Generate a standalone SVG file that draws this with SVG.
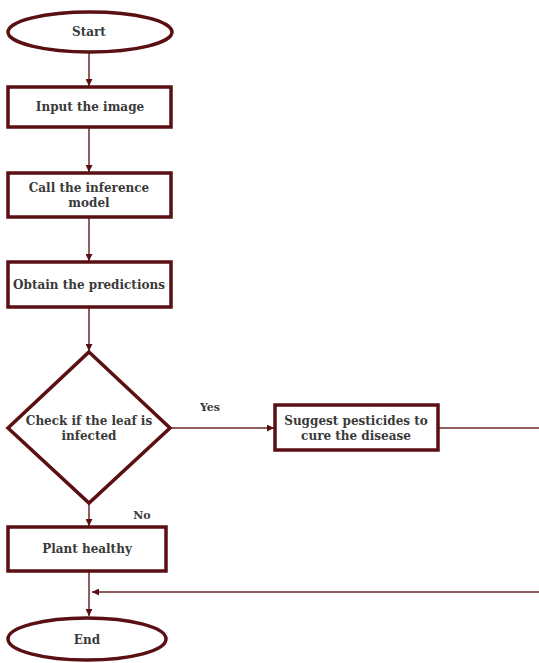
<svg xmlns="http://www.w3.org/2000/svg" width="539" height="663" viewBox="0 0 539 663">
<style>
.shape{fill:#fff;stroke:#5a0f12;stroke-width:3.5}
.conn{fill:none;stroke:#6a2a2c;stroke-width:1.5}
.t{font-family:"DejaVu Serif",serif;font-weight:bold;font-size:12px;fill:#3a3a3a;text-anchor:middle}
</style>
<defs>
<marker id="ah" viewBox="0 0 10 10" refX="10" refY="5" markerWidth="7" markerHeight="7" orient="auto" markerUnits="userSpaceOnUse">
<path d="M0,0 L10,5 L0,10 z" fill="#5a0f12"/>
</marker>
</defs>
<rect width="539" height="663" fill="#fff"/>
<g id="connectors">
<line class="conn" x1="89" y1="52" x2="89" y2="86" marker-end="url(#ah)"/>
<line class="conn" x1="89" y1="127" x2="89" y2="172" marker-end="url(#ah)"/>
<line class="conn" x1="89" y1="217" x2="89" y2="261" marker-end="url(#ah)"/>
<line class="conn" x1="89" y1="307" x2="89" y2="351" marker-end="url(#ah)"/>
<line class="conn" x1="170" y1="428" x2="274" y2="428" marker-end="url(#ah)"/>
<line class="conn" x1="89" y1="503" x2="89" y2="526" marker-end="url(#ah)"/>
<line class="conn" x1="89" y1="571" x2="89" y2="616" marker-end="url(#ah)"/>
<path class="conn" d="M438,428 H545 V592 H92" marker-end="url(#ah)"/>
<text class="t" x="210" y="411" style="font-size:11px">Yes</text>
<text class="t" x="142" y="519" style="font-size:11px">No</text>
</g>
<g id="start">
<ellipse class="shape" cx="90" cy="32" rx="82" ry="20"/>
<text class="t" x="89" y="36">Start</text>
</g>
<g id="input">
<rect class="shape" x="8" y="87" width="163" height="40"/>
<text class="t" x="90" y="111">Input the image</text>
</g>
<g id="call">
<rect class="shape" x="8" y="173" width="163" height="44"/>
<text class="t" x="89" y="192">Call the inference</text>
<text class="t" x="89" y="207">model</text>
</g>
<g id="obtain">
<rect class="shape" x="8" y="262" width="163" height="45"/>
<text class="t" x="89" y="289">Obtain the predictions</text>
</g>
<g id="check">
<polygon class="shape" points="89,352 170,428 89,503 8,428"/>
<text class="t" x="89" y="425">Check if the leaf is</text>
<text class="t" x="89" y="440">infected</text>
</g>
<g id="suggest">
<rect class="shape" x="275" y="405" width="163" height="45"/>
<text class="t" x="356" y="425">Suggest pesticides to</text>
<text class="t" x="356" y="440">cure the disease</text>
</g>
<g id="plant">
<rect class="shape" x="8" y="527" width="158" height="44"/>
<text class="t" x="87" y="553">Plant healthy</text>
</g>
<g id="end">
<ellipse class="shape" cx="87" cy="639" rx="79" ry="21"/>
<text class="t" x="87" y="644">End</text>
</g>
</svg>
